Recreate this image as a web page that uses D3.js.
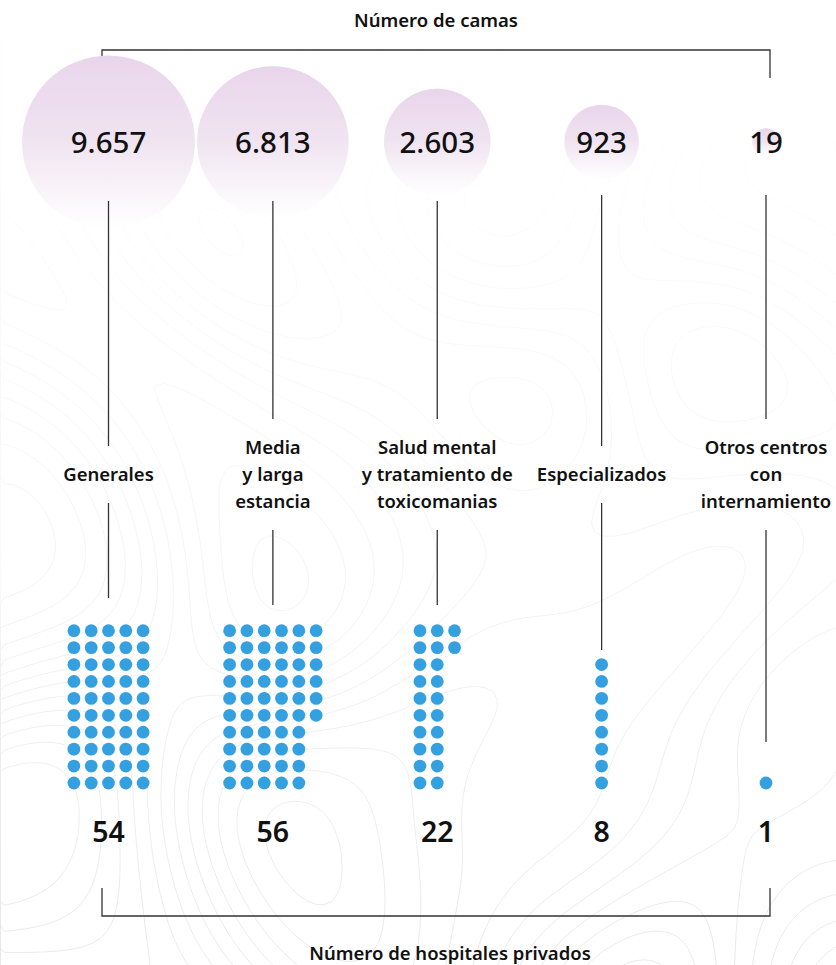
<!DOCTYPE html>
<html>
<head>
<meta charset="utf-8">
<script src="https://cdn.jsdelivr.net/npm/d3@7"></script>
<style>
  html, body { margin: 0; padding: 0; background: #fff; }
  svg { display: block; }
  text { font-family: "Noto Sans", "Open Sans", sans-serif; fill: #111; }
</style>
</head>
<body>
<svg id="chart" width="836" height="965"></svg>
<script>
// ---- data ----
const categorias = [
  ["Generales"],
  ["Media", "y larga", "estancia"],
  ["Salud mental", "y tratamiento de", "toxicomanias"],
  ["Especializados"],
  ["Otros centros", "con", "internamiento"]
];
const camas = [9657, 6813, 2603, 923, 19];
const camasLabels = ["9.657", "6.813", "2.603", "923", "19"];
const hospitales = [54, 56, 22, 8, 1];
const puntos = [50, 56, 22, 8, 1]; // dots as drawn in the reference
const tituloArriba = "Número de camas";
const tituloAbajo = "Número de hospitales privados";

// ---- layout ----
const W = 836, H = 965;
const svg = d3.select("#chart");
const idx = d3.range(categorias.length);
const x = d3.scalePoint().domain(idx).range([108.5, 766]);
const r = d3.scalePow().exponent(0.42).domain([0, d3.max(camas)]).range([8, 86.5]);
const bubbleY = 142;

// ---- background contours (decorative) ----
const defs = svg.append("defs");
const fade = defs.append("linearGradient").attr("id", "fade").attr("x1", 0).attr("y1", 0).attr("x2", 0).attr("y2", 1);
fade.append("stop").attr("offset", "0%").attr("stop-color", "#fff").attr("stop-opacity", 0.0);
fade.append("stop").attr("offset", "35%").attr("stop-color", "#fff").attr("stop-opacity", 0.25);
fade.append("stop").attr("offset", "65%").attr("stop-color", "#fff").attr("stop-opacity", 0.6);
fade.append("stop").attr("offset", "100%").attr("stop-color", "#fff").attr("stop-opacity", 1);
defs.append("mask").attr("id", "bgmask")
  .append("rect").attr("width", W).attr("height", H).attr("fill", "url(#fade)");

const cell = 8, gw = Math.ceil(W / cell) + 1, gh = Math.ceil(H / cell) + 1;
const field = new Array(gw * gh);
for (let j = 0; j < gh; j++) for (let i = 0; i < gw; i++) {
  const px = i * cell, py = j * cell;
  field[j * gw + i] =
    Math.sin(px * 0.011 + Math.sin(py * 0.009) * 1.8) +
    Math.cos(py * 0.0125 + Math.cos(px * 0.0075) * 2.1) +
    0.6 * Math.sin((px + py) * 0.008 + 1.3) +
    0.45 * Math.cos((px - 1.4 * py) * 0.006 + 0.4);
}
const cont = d3.contours().size([gw, gh]).thresholds(d3.range(-2.6, 2.7, 0.42))(field);
const proj = d3.geoTransform({ point: function (px, py) { this.stream.point(px * cell, py * cell); } });
svg.append("g").attr("mask", "url(#bgmask)")
  .selectAll("path").data(cont).join("path")
  .attr("d", d3.geoPath(proj))
  .attr("fill", "none").attr("stroke", "#e8e8e8").attr("stroke-width", 0.9);

// ---- bubble gradient ----
const grad = defs.append("linearGradient").attr("id", "bub").attr("x1", 0).attr("y1", 0).attr("x2", 0).attr("y2", 1);
grad.append("stop").attr("offset", "0%").attr("stop-color", "#e9d5eb");
grad.append("stop").attr("offset", "50%").attr("stop-color", "#f0e4f1");
grad.append("stop").attr("offset", "100%").attr("stop-color", "#ffffff").attr("stop-opacity", 0.9);

const lineColor = "#333";

// ---- top bracket ----
const bxL = 102, bxR = 770;
svg.append("path")
  .attr("d", `M${bxL},78V50H${bxR}V78`)
  .attr("fill", "none").attr("stroke", lineColor).attr("stroke-width", 1.3);
svg.append("text").attr("x", (bxL + bxR) / 2).attr("y", 27)
  .attr("text-anchor", "middle").attr("font-size", 18.5).attr("font-weight", 600)
  .text(tituloArriba);

// ---- bubbles ----
const g = svg.append("g");
g.selectAll("circle.b").data(idx).join("circle").attr("class", "b")
  .attr("cx", i => x(i)).attr("cy", bubbleY).attr("r", i => r(camas[i]))
  .attr("fill", "url(#bub)");
g.selectAll("text.b").data(idx).join("text").attr("class", "b")
  .attr("x", i => x(i)).attr("y", bubbleY + 11)
  .attr("text-anchor", "middle").attr("font-size", 29.5).attr("font-weight", 500)
  .text(i => camasLabels[i]);

// ---- labels & connector lines ----
const lineH = 27, labelMid = 474;
const lineTop = [201, 201, 201, 195, 195];
const lineBottomEnd = [598, 605, 605, 650, 742];
idx.forEach(i => {
  const lines = categorias[i];
  const n = lines.length;
  const firstY = labelMid - (n - 1) / 2 * lineH;
  const lastY = labelMid + (n - 1) / 2 * lineH;
  const t = svg.append("text").attr("text-anchor", "middle")
    .attr("font-size", 18.5).attr("font-weight", 600);
  lines.forEach((s, k) => {
    t.append("tspan").attr("x", x(i)).attr("y", firstY + k * lineH + 6.5).text(s);
  });
  svg.append("line").attr("x1", x(i)).attr("x2", x(i))
    .attr("y1", lineTop[i]).attr("y2", firstY - 28)
    .attr("stroke", lineColor).attr("stroke-width", 1.3);
  svg.append("line").attr("x1", x(i)).attr("x2", x(i))
    .attr("y1", lastY + 29).attr("y2", lineBottomEnd[i])
    .attr("stroke", lineColor).attr("stroke-width", 1.3);
});

// ---- dot grids ----
const rows = 10, dx = 17.3, dy = 16.92, dotTop = 630.7, dotR = 6.4;
idx.forEach(i => {
  const n = puntos[i];
  const ncol = Math.ceil(n / rows);
  const x0 = x(i) - (ncol - 1) / 2 * dx;
  const offset = n < rows ? rows - n : 0;
  const pts = d3.range(n).map(k => ({
    cx: x0 + Math.floor(k / rows) * dx,
    cy: dotTop + ((k % rows) + offset) * dy
  }));
  svg.append("g").selectAll("circle").data(pts).join("circle")
    .attr("cx", d => d.cx).attr("cy", d => d.cy).attr("r", dotR)
    .attr("fill", "#35a0e0");
});

// ---- hospital counts ----
svg.append("g").selectAll("text").data(idx).join("text")
  .attr("x", i => x(i)).attr("y", 842)
  .attr("text-anchor", "middle").attr("font-size", 28.5).attr("font-weight", 600)
  .text(i => hospitales[i]);

// ---- bottom bracket ----
svg.append("path")
  .attr("d", `M${bxL},888V916H${bxR}V888`)
  .attr("fill", "none").attr("stroke", lineColor).attr("stroke-width", 1.3);
svg.append("text").attr("x", 450).attr("y", 960)
  .attr("text-anchor", "middle").attr("font-size", 18.5).attr("font-weight", 600)
  .text(tituloAbajo);
</script>
</body>
</html>
